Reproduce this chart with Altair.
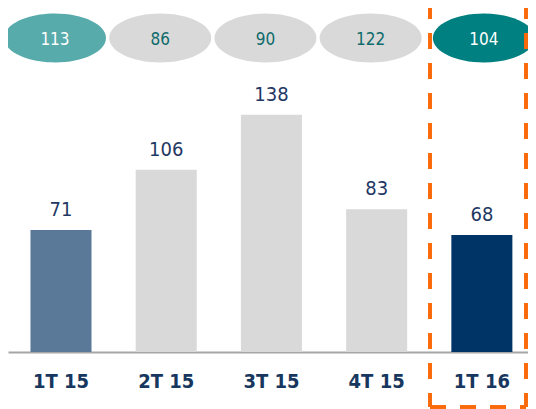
import altair as alt
import pandas as pd

quarters = ["1T 15", "2T 15", "3T 15", "4T 15", "1T 16"]
values = [71, 106, 138, 83, 68]
top_values = [113, 86, 90, 122, 104]
bar_colors = ["#5a7999", "#d9d9d9", "#d9d9d9", "#d9d9d9", "#003466"]
oval_colors = ["#57abab", "#d9d9d9", "#d9d9d9", "#d9d9d9", "#008080"]
oval_text_colors = ["#ffffff", "#0e6b6b", "#0e6b6b", "#0e6b6b", "#ffffff"]

df = pd.DataFrame({
    "q": quarters,
    "v": values,
    "top": top_values,
    "bar_color": bar_colors,
    "oval_color": oval_colors,
    "oval_text": oval_text_colors,
})

FONT = "DejaVu Sans Condensed, DejaVu Sans"
NAVY = "#17375e"
ORANGE = "#fa6a0a"

x = alt.X(
    "q:N",
    sort=quarters,
    scale=alt.Scale(domain=quarters, paddingInner=0.42, paddingOuter=0.181, align=0.59),
    axis=alt.Axis(
        title=None, labelAngle=0, ticks=False, grid=False,
        domainColor="#a6a6a6", domainWidth=2,
        labelFont=FONT, labelFontWeight="bold", labelFontSize=20,
        labelColor=NAVY, labelPadding=19, labelBaseline="top",
    ),
)
y = alt.Y("v:Q", scale=alt.Scale(domain=[0, 200], nice=False), axis=None)

base = alt.Chart(df)

bars = base.mark_bar().encode(
    x=x, y=y, color=alt.Color("bar_color:N", scale=None)
)

labels = base.mark_text(
    font=FONT, fontSize=20, baseline="alphabetic", dy=-14, color="#1f3864"
).encode(x=x, y=y, text="v:Q")

ellipse_path = "M -1 0 A 1 0.48 0 1 0 1 0 A 1 0.48 0 1 0 -1 0 Z"


def oval_layers(filt, offset):
    src = base.transform_filter(filt)
    ov = src.mark_point(
        shape=ellipse_path, size=10404, filled=True, opacity=1,
        strokeWidth=0, xOffset=offset,
    ).encode(
        x=x, y=alt.value(30), color=alt.Color("oval_color:N", scale=None)
    )
    tx = src.mark_text(
        font=FONT, fontSize=17, baseline="middle", dx=offset
    ).encode(
        x=x, y=alt.value(32), text="top:Q",
        color=alt.Color("oval_text:N", scale=None),
    )
    return [ov, tx]


ov_a = oval_layers(alt.datum.q != "1T 16", -6)
ov_b = oval_layers(alt.datum.q == "1T 16", 2)

box_style = dict(color=ORANGE, strokeWidth=3, strokeDash=[16, 14])
box_left = base.mark_rule(strokeDashOffset=5, **box_style).encode(
    x=alt.value(422), y=alt.value(0), y2=alt.value(399)
)
box_right = base.mark_rule(strokeDashOffset=5, **box_style).encode(
    x=alt.value(518), y=alt.value(0), y2=alt.value(399)
)
box_bottom = base.mark_rule(**box_style).encode(
    y=alt.value(399), x=alt.value(422), x2=alt.value(518)
)

chart = alt.layer(
    bars, labels, *ov_a, *ov_b, box_left, box_right, box_bottom
).properties(
    width=520, height=344,
    autosize=alt.AutoSizeParams(type="none"),
    padding={"left": 0, "top": 0, "right": 0, "bottom": 57},
).configure_view(stroke=None)

chart.save("out.html", embed_options={"renderer": "svg", "actions": False})
